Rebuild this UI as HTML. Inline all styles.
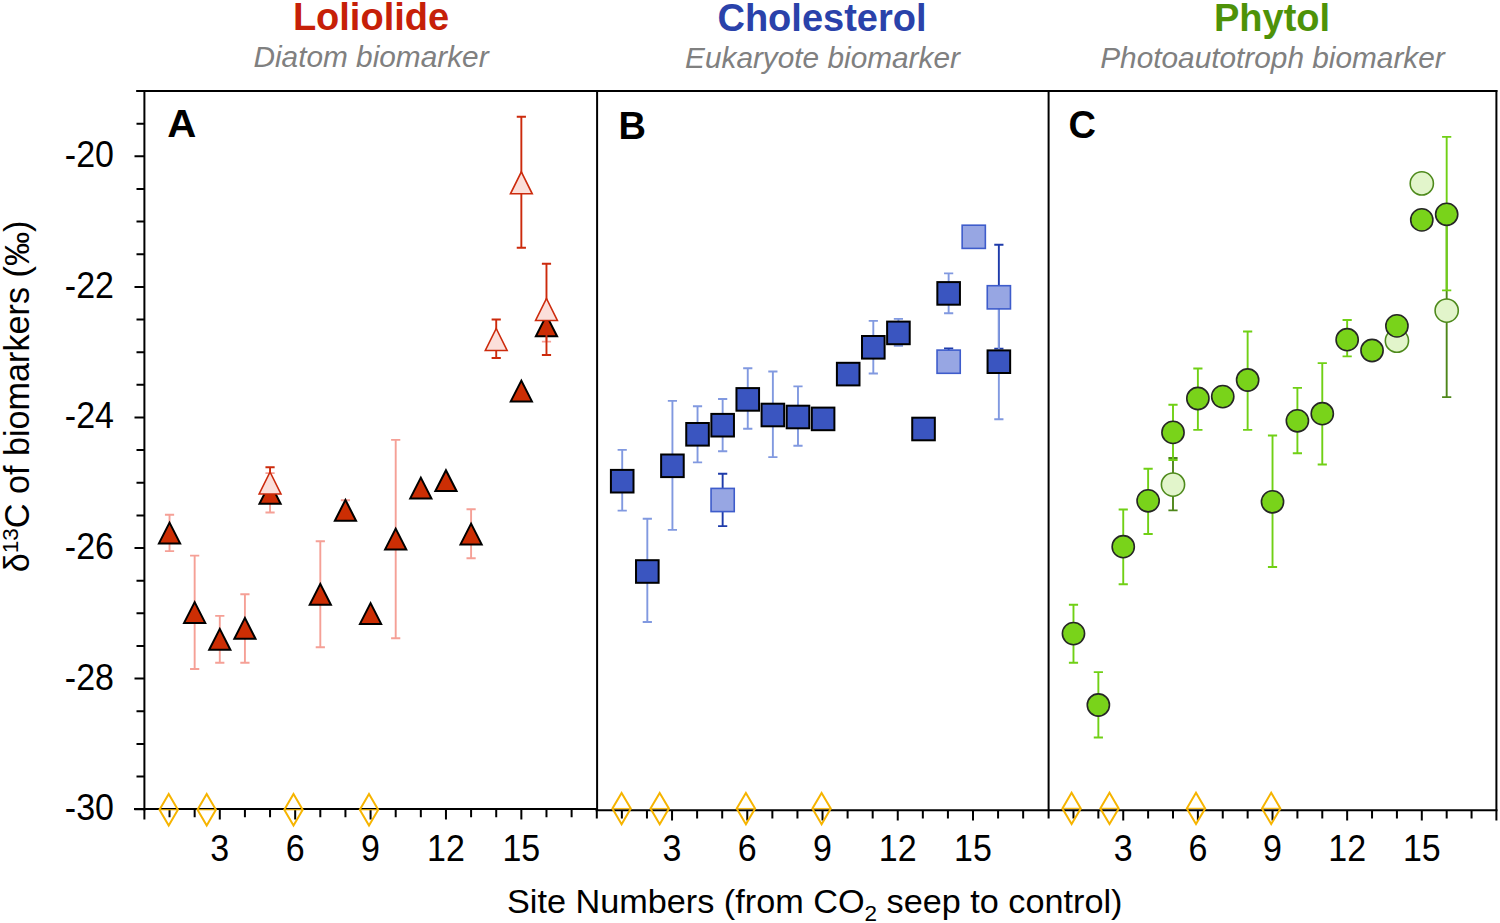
<!DOCTYPE html>
<html><head><meta charset="utf-8"><title>Biomarker d13C</title>
<style>
html,body{margin:0;padding:0;background:#fff;}
svg{display:block;}
text{font-family:"Liberation Sans", sans-serif;}
</style></head>
<body>
<svg width="1500" height="923" viewBox="0 0 1500 923" font-family='"Liberation Sans", sans-serif'>
<rect width="1500" height="923" fill="#fff"/>
<text x="371.00" y="29.80" font-size="38" text-anchor="middle" font-weight="bold" font-style="normal" fill="#C62008" >Loliolide</text>
<text x="371.00" y="67.20" font-size="29.8" text-anchor="middle" font-weight="normal" font-style="italic" fill="#808080" >Diatom biomarker</text>
<text x="822.00" y="31.00" font-size="38" text-anchor="middle" font-weight="bold" font-style="normal" fill="#2A42AA" >Cholesterol</text>
<text x="822.50" y="68.40" font-size="29.8" text-anchor="middle" font-weight="normal" font-style="italic" fill="#808080" >Eukaryote biomarker</text>
<text x="1272.00" y="30.80" font-size="38" text-anchor="middle" font-weight="bold" font-style="normal" fill="#4E9208" >Phytol</text>
<text x="1272.50" y="68.00" font-size="29.8" text-anchor="middle" font-weight="normal" font-style="italic" fill="#808080" >Photoautotroph biomarker</text>
<path d="M136.3 91.0H1497.4" stroke="#000" stroke-width="2.0"/>
<path d="M134 809.1H597.6" stroke="#000" stroke-width="2.0"/>
<path d="M595.6 810.2H1497.4" stroke="#000" stroke-width="2.0"/>
<path d="M144.4 90.0V810.5" stroke="#000" stroke-width="2.0"/>
<path d="M597.1 90.0V810.5" stroke="#000" stroke-width="2.0"/>
<path d="M1048.6 90.0V810.5" stroke="#000" stroke-width="2.0"/>
<path d="M1496.4 90.0V810.5" stroke="#000" stroke-width="2.0"/>
<path d="M136.5 91.01H144.4M136.5 123.66H144.4M134.5 156.30H144.4M136.5 188.95H144.4M136.5 221.59H144.4M136.5 254.24H144.4M134.5 286.88H144.4M136.5 319.53H144.4M136.5 352.17H144.4M136.5 384.82H144.4M134.5 417.46H144.4M136.5 450.11H144.4M136.5 482.75H144.4M136.5 515.39H144.4M134.5 548.04H144.4M136.5 580.69H144.4M136.5 613.33H144.4M136.5 645.98H144.4M134.5 678.62H144.4M136.5 711.27H144.4M136.5 743.91H144.4M136.5 776.56H144.4M134.5 809.20H144.4" stroke="#000" stroke-width="2.0"/>
<text transform="translate(114.00,167.30) scale(1,1.065)" font-size="34" text-anchor="end" font-weight="normal" font-style="normal" fill="#000" >-20</text>
<text transform="translate(114.00,297.88) scale(1,1.065)" font-size="34" text-anchor="end" font-weight="normal" font-style="normal" fill="#000" >-22</text>
<text transform="translate(114.00,428.46) scale(1,1.065)" font-size="34" text-anchor="end" font-weight="normal" font-style="normal" fill="#000" >-24</text>
<text transform="translate(114.00,559.04) scale(1,1.065)" font-size="34" text-anchor="end" font-weight="normal" font-style="normal" fill="#000" >-26</text>
<text transform="translate(114.00,689.62) scale(1,1.065)" font-size="34" text-anchor="end" font-weight="normal" font-style="normal" fill="#000" >-28</text>
<text transform="translate(114.00,820.20) scale(1,1.065)" font-size="34" text-anchor="end" font-weight="normal" font-style="normal" fill="#000" >-30</text>
<path d="M144.40 809.1V819.40M169.53 809.1V817.30M194.66 809.1V817.30M219.79 809.1V819.40M244.92 809.1V817.30M270.05 809.1V817.30M295.18 809.1V819.40M320.31 809.1V817.30M345.44 809.1V817.30M370.57 809.1V819.40M395.70 809.1V817.30M420.83 809.1V817.30M445.96 809.1V819.40M471.09 809.1V817.30M496.22 809.1V817.30M521.35 809.1V819.40M546.48 809.1V817.30M571.61 809.1V817.30" stroke="#000" stroke-width="2.0"/>
<text transform="translate(219.79,860.60) scale(1,1.065)" font-size="34" text-anchor="middle" font-weight="normal" font-style="normal" fill="#000" >3</text>
<text transform="translate(295.18,860.60) scale(1,1.065)" font-size="34" text-anchor="middle" font-weight="normal" font-style="normal" fill="#000" >6</text>
<text transform="translate(370.57,860.60) scale(1,1.065)" font-size="34" text-anchor="middle" font-weight="normal" font-style="normal" fill="#000" >9</text>
<text transform="translate(445.96,860.60) scale(1,1.065)" font-size="34" text-anchor="middle" font-weight="normal" font-style="normal" fill="#000" >12</text>
<text transform="translate(521.35,860.60) scale(1,1.065)" font-size="34" text-anchor="middle" font-weight="normal" font-style="normal" fill="#000" >15</text>
<path d="M596.80 810.2V818.40M621.88 810.2V818.40M646.96 810.2V818.40M672.04 810.2V820.50M697.12 810.2V818.40M722.20 810.2V818.40M747.28 810.2V820.50M772.36 810.2V818.40M797.44 810.2V818.40M822.52 810.2V820.50M847.60 810.2V818.40M872.68 810.2V818.40M897.76 810.2V820.50M922.84 810.2V818.40M947.92 810.2V818.40M973.00 810.2V820.50M998.08 810.2V818.40M1023.16 810.2V818.40" stroke="#000" stroke-width="2.0"/>
<text transform="translate(672.04,860.60) scale(1,1.065)" font-size="34" text-anchor="middle" font-weight="normal" font-style="normal" fill="#000" >3</text>
<text transform="translate(747.28,860.60) scale(1,1.065)" font-size="34" text-anchor="middle" font-weight="normal" font-style="normal" fill="#000" >6</text>
<text transform="translate(822.52,860.60) scale(1,1.065)" font-size="34" text-anchor="middle" font-weight="normal" font-style="normal" fill="#000" >9</text>
<text transform="translate(897.76,860.60) scale(1,1.065)" font-size="34" text-anchor="middle" font-weight="normal" font-style="normal" fill="#000" >12</text>
<text transform="translate(973.00,860.60) scale(1,1.065)" font-size="34" text-anchor="middle" font-weight="normal" font-style="normal" fill="#000" >15</text>
<path d="M1048.60 810.2V818.40M1073.48 810.2V818.40M1098.36 810.2V818.40M1123.24 810.2V820.50M1148.12 810.2V818.40M1173.00 810.2V818.40M1197.88 810.2V820.50M1222.76 810.2V818.40M1247.64 810.2V818.40M1272.52 810.2V820.50M1297.40 810.2V818.40M1322.28 810.2V818.40M1347.16 810.2V820.50M1372.04 810.2V818.40M1396.92 810.2V818.40M1421.80 810.2V820.50M1446.68 810.2V818.40M1471.56 810.2V818.40M1496.40 810.2V820.50" stroke="#000" stroke-width="2.0"/>
<text transform="translate(1123.24,860.60) scale(1,1.065)" font-size="34" text-anchor="middle" font-weight="normal" font-style="normal" fill="#000" >3</text>
<text transform="translate(1197.88,860.60) scale(1,1.065)" font-size="34" text-anchor="middle" font-weight="normal" font-style="normal" fill="#000" >6</text>
<text transform="translate(1272.52,860.60) scale(1,1.065)" font-size="34" text-anchor="middle" font-weight="normal" font-style="normal" fill="#000" >9</text>
<text transform="translate(1347.16,860.60) scale(1,1.065)" font-size="34" text-anchor="middle" font-weight="normal" font-style="normal" fill="#000" >12</text>
<text transform="translate(1421.80,860.60) scale(1,1.065)" font-size="34" text-anchor="middle" font-weight="normal" font-style="normal" fill="#000" >15</text>
<path d="M168.70 794.00L177.90 809.70L168.70 825.40L159.50 809.70Z" fill="none" stroke="#F6B400" stroke-width="2.0" stroke-linejoin="miter"/>
<path d="M159.50 809.70H177.90" stroke="#F6B400" stroke-opacity="0.85" stroke-width="1.3"/>
<path d="M206.70 794.00L215.90 809.70L206.70 825.40L197.50 809.70Z" fill="none" stroke="#F6B400" stroke-width="2.0" stroke-linejoin="miter"/>
<path d="M197.50 809.70H215.90" stroke="#F6B400" stroke-opacity="0.85" stroke-width="1.3"/>
<path d="M293.50 794.00L302.70 809.70L293.50 825.40L284.30 809.70Z" fill="none" stroke="#F6B400" stroke-width="2.0" stroke-linejoin="miter"/>
<path d="M284.30 809.70H302.70" stroke="#F6B400" stroke-opacity="0.85" stroke-width="1.3"/>
<path d="M369.00 794.00L378.20 809.70L369.00 825.40L359.80 809.70Z" fill="none" stroke="#F6B400" stroke-width="2.0" stroke-linejoin="miter"/>
<path d="M359.80 809.70H378.20" stroke="#F6B400" stroke-opacity="0.85" stroke-width="1.3"/>
<path d="M621.60 792.90L630.80 808.60L621.60 824.30L612.40 808.60Z" fill="none" stroke="#F6B400" stroke-width="2.0" stroke-linejoin="miter"/>
<path d="M612.40 808.60H630.80" stroke="#F6B400" stroke-opacity="0.85" stroke-width="1.3"/>
<path d="M659.70 792.90L668.90 808.60L659.70 824.30L650.50 808.60Z" fill="none" stroke="#F6B400" stroke-width="2.0" stroke-linejoin="miter"/>
<path d="M650.50 808.60H668.90" stroke="#F6B400" stroke-opacity="0.85" stroke-width="1.3"/>
<path d="M745.90 792.90L755.10 808.60L745.90 824.30L736.70 808.60Z" fill="none" stroke="#F6B400" stroke-width="2.0" stroke-linejoin="miter"/>
<path d="M736.70 808.60H755.10" stroke="#F6B400" stroke-opacity="0.85" stroke-width="1.3"/>
<path d="M821.60 792.90L830.80 808.60L821.60 824.30L812.40 808.60Z" fill="none" stroke="#F6B400" stroke-width="2.0" stroke-linejoin="miter"/>
<path d="M812.40 808.60H830.80" stroke="#F6B400" stroke-opacity="0.85" stroke-width="1.3"/>
<path d="M1071.60 792.70L1080.80 808.40L1071.60 824.10L1062.40 808.40Z" fill="none" stroke="#F6B400" stroke-width="2.0" stroke-linejoin="miter"/>
<path d="M1062.40 808.40H1080.80" stroke="#F6B400" stroke-opacity="0.85" stroke-width="1.3"/>
<path d="M1109.50 792.70L1118.70 808.40L1109.50 824.10L1100.30 808.40Z" fill="none" stroke="#F6B400" stroke-width="2.0" stroke-linejoin="miter"/>
<path d="M1100.30 808.40H1118.70" stroke="#F6B400" stroke-opacity="0.85" stroke-width="1.3"/>
<path d="M1196.00 792.70L1205.20 808.40L1196.00 824.10L1186.80 808.40Z" fill="none" stroke="#F6B400" stroke-width="2.0" stroke-linejoin="miter"/>
<path d="M1186.80 808.40H1205.20" stroke="#F6B400" stroke-opacity="0.85" stroke-width="1.3"/>
<path d="M1271.20 792.70L1280.40 808.40L1271.20 824.10L1262.00 808.40Z" fill="none" stroke="#F6B400" stroke-width="2.0" stroke-linejoin="miter"/>
<path d="M1262.00 808.40H1280.40" stroke="#F6B400" stroke-opacity="0.85" stroke-width="1.3"/>
<path d="M169.53 514.70V551.10M164.93 514.70H174.13M164.93 551.10H174.13" stroke="#F5A096" stroke-width="1.9" fill="none"/>
<path d="M194.66 555.60V669.00M190.06 555.60H199.26M190.06 669.00H199.26" stroke="#F5A096" stroke-width="1.9" fill="none"/>
<path d="M219.79 615.90V662.70M215.19 615.90H224.39M215.19 662.70H224.39" stroke="#F5A096" stroke-width="1.9" fill="none"/>
<path d="M244.92 594.20V662.70M240.32 594.20H249.52M240.32 662.70H249.52" stroke="#F5A096" stroke-width="1.9" fill="none"/>
<path d="M270.05 473.10V512.50M265.45 473.10H274.65M265.45 512.50H274.65" stroke="#F5A096" stroke-width="1.9" fill="none"/>
<path d="M320.31 541.30V647.30M315.71 541.30H324.91M315.71 647.30H324.91" stroke="#F5A096" stroke-width="1.9" fill="none"/>
<path d="M345.44 500.20V520.40M340.84 500.20H350.04M340.84 520.40H350.04" stroke="#F5A096" stroke-width="1.9" fill="none"/>
<path d="M395.70 439.90V638.20M391.10 439.90H400.30M391.10 638.20H400.30" stroke="#F5A096" stroke-width="1.9" fill="none"/>
<path d="M471.09 509.30V558.20M466.49 509.30H475.69M466.49 558.20H475.69" stroke="#F5A096" stroke-width="1.9" fill="none"/>
<path d="M546.48 311.60V341.60M541.88 311.60H551.08M541.88 341.60H551.08" stroke="#F5A096" stroke-width="1.9" fill="none"/>
<polygon points="169.53,522.60 180.13,543.40 158.93,543.40" fill="#CC2E04" stroke="#000" stroke-width="2.0" stroke-linejoin="miter"/>
<polygon points="194.66,602.10 205.26,622.90 184.06,622.90" fill="#CC2E04" stroke="#000" stroke-width="2.0" stroke-linejoin="miter"/>
<polygon points="219.79,628.90 230.39,649.70 209.19,649.70" fill="#CC2E04" stroke="#000" stroke-width="2.0" stroke-linejoin="miter"/>
<polygon points="244.92,617.90 255.52,638.70 234.32,638.70" fill="#CC2E04" stroke="#000" stroke-width="2.0" stroke-linejoin="miter"/>
<polygon points="270.05,482.90 280.65,503.70 259.45,503.70" fill="#CC2E04" stroke="#000" stroke-width="2.0" stroke-linejoin="miter"/>
<polygon points="320.31,583.90 330.91,604.70 309.71,604.70" fill="#CC2E04" stroke="#000" stroke-width="2.0" stroke-linejoin="miter"/>
<polygon points="345.44,499.90 356.04,520.70 334.84,520.70" fill="#CC2E04" stroke="#000" stroke-width="2.0" stroke-linejoin="miter"/>
<polygon points="370.57,603.10 381.17,623.90 359.97,623.90" fill="#CC2E04" stroke="#000" stroke-width="2.0" stroke-linejoin="miter"/>
<polygon points="395.70,528.60 406.30,549.40 385.10,549.40" fill="#CC2E04" stroke="#000" stroke-width="2.0" stroke-linejoin="miter"/>
<polygon points="420.83,477.60 431.43,498.40 410.23,498.40" fill="#CC2E04" stroke="#000" stroke-width="2.0" stroke-linejoin="miter"/>
<polygon points="445.96,470.20 456.56,491.00 435.36,491.00" fill="#CC2E04" stroke="#000" stroke-width="2.0" stroke-linejoin="miter"/>
<polygon points="471.09,523.60 481.69,544.40 460.49,544.40" fill="#CC2E04" stroke="#000" stroke-width="2.0" stroke-linejoin="miter"/>
<polygon points="521.35,380.60 531.95,401.40 510.75,401.40" fill="#CC2E04" stroke="#000" stroke-width="2.0" stroke-linejoin="miter"/>
<polygon points="546.48,315.40 557.08,336.20 535.88,336.20" fill="#CC2E04" stroke="#000" stroke-width="2.0" stroke-linejoin="miter"/>
<path d="M270.05 467.20V498.80M265.45 467.20H274.65M265.45 498.80H274.65" stroke="#CC2A0C" stroke-width="1.9" fill="none"/>
<path d="M496.22 319.50V358.00M491.62 319.50H500.82M491.62 358.00H500.82" stroke="#CC2A0C" stroke-width="1.9" fill="none"/>
<path d="M521.35 116.80V247.70M516.75 116.80H525.95M516.75 247.70H525.95" stroke="#CC2A0C" stroke-width="1.9" fill="none"/>
<path d="M546.48 263.80V355.00M541.88 263.80H551.08M541.88 355.00H551.08" stroke="#CC2A0C" stroke-width="1.9" fill="none"/>
<polygon points="270.05,472.00 280.95,494.00 259.15,494.00" fill="#FBDFDA" stroke="#CC2A0C" stroke-width="1.6" stroke-linejoin="miter"/>
<polygon points="496.22,328.50 507.12,350.50 485.32,350.50" fill="#FBDFDA" stroke="#CC2A0C" stroke-width="1.6" stroke-linejoin="miter"/>
<polygon points="521.35,171.80 532.25,193.80 510.45,193.80" fill="#FBDFDA" stroke="#CC2A0C" stroke-width="1.6" stroke-linejoin="miter"/>
<polygon points="546.48,298.50 557.38,320.50 535.58,320.50" fill="#FBDFDA" stroke="#CC2A0C" stroke-width="1.6" stroke-linejoin="miter"/>
<path d="M722.65 473.80V526.10M718.05 473.80H727.25M718.05 526.10H727.25" stroke="#1E3BAA" stroke-width="1.9" fill="none"/>
<path d="M948.64 348.40V361.70M944.04 348.40H953.24" stroke="#1E3BAA" stroke-width="1.9" fill="none"/>
<path d="M998.86 244.70V348.60M994.26 244.70H1003.46M994.26 348.60H1003.46" stroke="#1E3BAA" stroke-width="1.9" fill="none"/>
<path d="M622.21 449.90V510.60M617.61 449.90H626.81M617.61 510.60H626.81" stroke="#8199E0" stroke-width="1.9" fill="none"/>
<path d="M647.32 518.80V622.00M642.72 518.80H651.92M642.72 622.00H651.92" stroke="#8199E0" stroke-width="1.9" fill="none"/>
<path d="M672.43 400.90V529.90M667.83 400.90H677.03M667.83 529.90H677.03" stroke="#8199E0" stroke-width="1.9" fill="none"/>
<path d="M697.54 406.30V462.40M692.94 406.30H702.14M692.94 462.40H702.14" stroke="#8199E0" stroke-width="1.9" fill="none"/>
<path d="M722.65 399.00V451.30M718.05 399.00H727.25M718.05 451.30H727.25" stroke="#8199E0" stroke-width="1.9" fill="none"/>
<path d="M747.76 368.20V428.70M743.16 368.20H752.36M743.16 428.70H752.36" stroke="#8199E0" stroke-width="1.9" fill="none"/>
<path d="M772.87 371.50V457.10M768.27 371.50H777.47M768.27 457.10H777.47" stroke="#8199E0" stroke-width="1.9" fill="none"/>
<path d="M797.98 386.40V445.80M793.38 386.40H802.58M793.38 445.80H802.58" stroke="#8199E0" stroke-width="1.9" fill="none"/>
<path d="M873.31 320.90V373.50M868.71 320.90H877.91M868.71 373.50H877.91" stroke="#8199E0" stroke-width="1.9" fill="none"/>
<path d="M898.42 318.90V345.80M893.82 318.90H903.02M893.82 345.80H903.02" stroke="#8199E0" stroke-width="1.9" fill="none"/>
<path d="M948.64 273.40V313.20M944.04 273.40H953.24M944.04 313.20H953.24" stroke="#8199E0" stroke-width="1.9" fill="none"/>
<path d="M998.86 304.10V419.30M994.26 304.10H1003.46M994.26 419.30H1003.46" stroke="#8199E0" stroke-width="1.9" fill="none"/>
<rect x="711.05" y="488.40" width="23.2" height="23.2" fill="#97A6E3" stroke="#3E5CCB" stroke-width="1.6"/>
<rect x="937.04" y="350.10" width="23.2" height="23.2" fill="#97A6E3" stroke="#3E5CCB" stroke-width="1.6"/>
<rect x="962.15" y="225.20" width="23.2" height="23.2" fill="#97A6E3" stroke="#3E5CCB" stroke-width="1.6"/>
<rect x="987.26" y="285.70" width="23.2" height="23.2" fill="#97A6E3" stroke="#3E5CCB" stroke-width="1.6"/>
<rect x="610.91" y="469.90" width="22.6" height="22.6" fill="#3A55C0" stroke="#000" stroke-width="2.0"/>
<rect x="636.02" y="560.20" width="22.6" height="22.6" fill="#3A55C0" stroke="#000" stroke-width="2.0"/>
<rect x="661.13" y="454.50" width="22.6" height="22.6" fill="#3A55C0" stroke="#000" stroke-width="2.0"/>
<rect x="686.24" y="423.00" width="22.6" height="22.6" fill="#3A55C0" stroke="#000" stroke-width="2.0"/>
<rect x="711.35" y="413.90" width="22.6" height="22.6" fill="#3A55C0" stroke="#000" stroke-width="2.0"/>
<rect x="736.46" y="388.10" width="22.6" height="22.6" fill="#3A55C0" stroke="#000" stroke-width="2.0"/>
<rect x="761.57" y="403.70" width="22.6" height="22.6" fill="#3A55C0" stroke="#000" stroke-width="2.0"/>
<rect x="786.68" y="405.70" width="22.6" height="22.6" fill="#3A55C0" stroke="#000" stroke-width="2.0"/>
<rect x="811.79" y="407.60" width="22.6" height="22.6" fill="#3A55C0" stroke="#000" stroke-width="2.0"/>
<rect x="836.90" y="362.80" width="22.6" height="22.6" fill="#3A55C0" stroke="#000" stroke-width="2.0"/>
<rect x="862.01" y="336.00" width="22.6" height="22.6" fill="#3A55C0" stroke="#000" stroke-width="2.0"/>
<rect x="887.12" y="321.60" width="22.6" height="22.6" fill="#3A55C0" stroke="#000" stroke-width="2.0"/>
<rect x="912.23" y="417.70" width="22.6" height="22.6" fill="#3A55C0" stroke="#000" stroke-width="2.0"/>
<rect x="937.34" y="282.10" width="22.6" height="22.6" fill="#3A55C0" stroke="#000" stroke-width="2.0"/>
<rect x="987.56" y="350.40" width="22.6" height="22.6" fill="#3A55C0" stroke="#000" stroke-width="2.0"/>
<path d="M1173.00 458.00V510.40M1168.40 458.00H1177.60M1168.40 510.40H1177.60" stroke="#4E861A" stroke-width="1.9" fill="none"/>
<path d="M1446.68 224.10V397.10M1442.08 224.10H1451.28M1442.08 397.10H1451.28" stroke="#4E861A" stroke-width="1.9" fill="none"/>
<circle cx="1173.00" cy="484.60" r="11.6" fill="#E2F5CB" stroke="#4E8A1C" stroke-width="1.6"/>
<circle cx="1396.92" cy="340.70" r="11.6" fill="#E2F5CB" stroke="#4E8A1C" stroke-width="1.6"/>
<circle cx="1421.80" cy="183.40" r="11.6" fill="#E2F5CB" stroke="#4E8A1C" stroke-width="1.6"/>
<circle cx="1446.68" cy="310.60" r="11.6" fill="#E2F5CB" stroke="#4E8A1C" stroke-width="1.6"/>
<path d="M1073.48 604.80V662.80M1068.88 604.80H1078.08M1068.88 662.80H1078.08" stroke="#70D015" stroke-width="1.9" fill="none"/>
<path d="M1098.36 672.10V737.50M1093.76 672.10H1102.96M1093.76 737.50H1102.96" stroke="#70D015" stroke-width="1.9" fill="none"/>
<path d="M1123.24 509.50V584.30M1118.64 509.50H1127.84M1118.64 584.30H1127.84" stroke="#70D015" stroke-width="1.9" fill="none"/>
<path d="M1148.12 468.70V534.00M1143.52 468.70H1152.72M1143.52 534.00H1152.72" stroke="#70D015" stroke-width="1.9" fill="none"/>
<path d="M1173.00 404.80V460.00M1168.40 404.80H1177.60M1168.40 460.00H1177.60" stroke="#70D015" stroke-width="1.9" fill="none"/>
<path d="M1197.88 368.50V429.90M1193.28 368.50H1202.48M1193.28 429.90H1202.48" stroke="#70D015" stroke-width="1.9" fill="none"/>
<path d="M1247.64 331.50V429.90M1243.04 331.50H1252.24M1243.04 429.90H1252.24" stroke="#70D015" stroke-width="1.9" fill="none"/>
<path d="M1272.52 435.50V567.00M1267.92 435.50H1277.12M1267.92 567.00H1277.12" stroke="#70D015" stroke-width="1.9" fill="none"/>
<path d="M1297.40 387.90V453.20M1292.80 387.90H1302.00M1292.80 453.20H1302.00" stroke="#70D015" stroke-width="1.9" fill="none"/>
<path d="M1322.28 363.10V464.50M1317.68 363.10H1326.88M1317.68 464.50H1326.88" stroke="#70D015" stroke-width="1.9" fill="none"/>
<path d="M1347.16 320.00V356.40M1342.56 320.00H1351.76M1342.56 356.40H1351.76" stroke="#70D015" stroke-width="1.9" fill="none"/>
<path d="M1446.68 136.90V290.40M1442.08 136.90H1451.28M1442.08 290.40H1451.28" stroke="#70D015" stroke-width="1.9" fill="none"/>
<circle cx="1073.48" cy="633.60" r="11.1" fill="#79D31A" stroke="#262626" stroke-width="1.6"/>
<circle cx="1098.36" cy="705.00" r="11.1" fill="#79D31A" stroke="#262626" stroke-width="1.6"/>
<circle cx="1123.24" cy="546.70" r="11.1" fill="#79D31A" stroke="#262626" stroke-width="1.6"/>
<circle cx="1148.12" cy="500.80" r="11.1" fill="#79D31A" stroke="#262626" stroke-width="1.6"/>
<circle cx="1173.00" cy="432.40" r="11.1" fill="#79D31A" stroke="#262626" stroke-width="1.6"/>
<circle cx="1197.88" cy="398.50" r="11.1" fill="#79D31A" stroke="#262626" stroke-width="1.6"/>
<circle cx="1222.76" cy="396.60" r="11.1" fill="#79D31A" stroke="#262626" stroke-width="1.6"/>
<circle cx="1247.64" cy="380.00" r="11.1" fill="#79D31A" stroke="#262626" stroke-width="1.6"/>
<circle cx="1272.52" cy="501.80" r="11.1" fill="#79D31A" stroke="#262626" stroke-width="1.6"/>
<circle cx="1297.40" cy="420.80" r="11.1" fill="#79D31A" stroke="#262626" stroke-width="1.6"/>
<circle cx="1322.28" cy="413.70" r="11.1" fill="#79D31A" stroke="#262626" stroke-width="1.6"/>
<circle cx="1347.16" cy="339.70" r="11.1" fill="#79D31A" stroke="#262626" stroke-width="1.6"/>
<circle cx="1372.04" cy="350.50" r="11.1" fill="#79D31A" stroke="#262626" stroke-width="1.6"/>
<circle cx="1396.92" cy="325.90" r="11.1" fill="#79D31A" stroke="#262626" stroke-width="1.6"/>
<circle cx="1421.80" cy="219.90" r="11.1" fill="#79D31A" stroke="#262626" stroke-width="1.6"/>
<circle cx="1446.68" cy="214.30" r="11.1" fill="#79D31A" stroke="#262626" stroke-width="1.6"/>
<text transform="translate(167.20,137.10) scale(1.06,1)" font-size="38" text-anchor="start" font-weight="bold" font-style="normal" fill="#000" >A</text>
<text x="618.60" y="139.20" font-size="38" text-anchor="start" font-weight="bold" font-style="normal" fill="#000" >B</text>
<text x="1068.50" y="138.40" font-size="38" text-anchor="start" font-weight="bold" font-style="normal" fill="#000" >C</text>
<text transform="translate(28.9,396.4) rotate(-90)" font-size="34.2" text-anchor="middle" fill="#000">δ<tspan font-size="22.5" dy="-11">13</tspan><tspan dy="11">C of biomarkers (‰)</tspan></text>
<text transform="translate(507,913.3) scale(1.022,1)" font-size="33.5" fill="#000">Site Numbers (from CO<tspan font-size="22" dy="8">2</tspan><tspan dy="-8"> seep to control)</tspan></text>
</svg>
</body></html>
